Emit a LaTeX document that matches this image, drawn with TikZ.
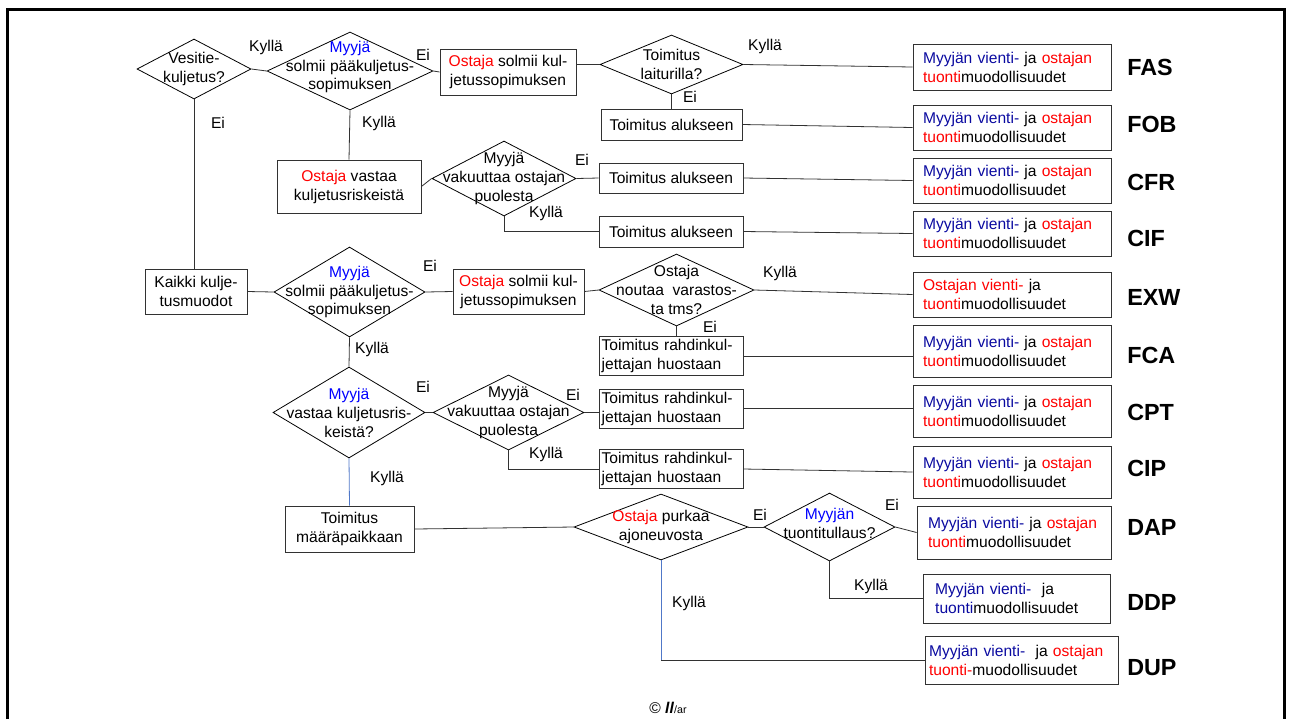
\documentclass[tikz,border=0pt]{standalone}
\usepackage{fontspec}
\setmainfont{Liberation Sans}
\usetikzlibrary{shapes.geometric}
\definecolor{myblue}{RGB}{0,0,255}
\definecolor{navy}{RGB}{10,10,160}
\definecolor{myred}{RGB}{255,0,0}
\definecolor{bline}{RGB}{80,120,200}
\definecolor{lgray}{RGB}{50,50,50}
\newcommand{\nfont}{\fontsize{11.7}{14.2}\selectfont}
\newcommand{\myyvienti}{\textcolor{navy}{Myyjän vienti-} ja \textcolor{myred}{ostajan}\\\textcolor{myred}{tuonti}muodollisuudet}
\tikzset{
	dia/.style={draw=black, diamond, inner sep=0pt, line width=0.6pt},
	box/.style={draw=lgray, rectangle, align=center, font=\nfont, inner sep=2pt, line width=0.6pt},
	tbox/.style={box, align=left, text width=104pt, minimum height=28.5pt},
	res/.style={draw=lgray, rectangle, align=left, font=\nfont, text width=133.5pt, inner xsep=0pt, minimum width=148.5pt, minimum height=34.5pt, line width=0.6pt},
	lbl/.style={font=\nfont, inner sep=0pt},
	term/.style={font={\fontsize{17.5}{20}\selectfont\bfseries}, anchor=west, inner sep=0pt},
	con/.style={draw=lgray, line width=0.6pt},
	every label/.style={font=\nfont, align=center, inner sep=0pt}
}
\begin{document}
\begin{tikzpicture}[x=0.75pt, y=-0.75pt]
	\useasboundingbox (0, 0) rectangle (1289, 719);
	\draw[line width=1.9pt] (7.5, 719) -- (7.5, 9.5) -- (1284.5, 9.5) -- (1284.5, 719);

	\node[dia, minimum width=85.5pt, minimum height=45pt, label={center:{Vesitie-\\kuljetus?}}] (vesi)at(194, 69) {};
	\node[dia, minimum width=124.5pt, minimum height=58.5pt, label={[yshift=3pt]center:{\textcolor{myblue}{Myyjä}\\solmii pääkuljetus-\\sopimuksen}}] (myy1)at(350, 71) {};
	\node[box, minimum width=102pt, minimum height=34.5pt] (ost1)at(508, 72) {\textcolor{myred}{Ostaja} solmii kul-\\jetussopimuksen};
	\node[dia, minimum width=107.25pt, minimum height=44.25pt, label={center:{Toimitus\\laiturilla?}}] (lait)at(671.5, 64.5) {};
	\node[box, minimum width=105.75pt, minimum height=23.25pt] (alus1)at(671.5, 124.5) {Toimitus alukseen};
	\node[box, minimum width=108pt, minimum height=39.75pt] (ostr)at(349, 186.5) {\textcolor{myred}{Ostaja} vastaa\\kuljetusriskeistä};
	\node[dia, minimum width=108pt, minimum height=56.25pt, label={center:{Myyjä\\vakuuttaa ostajan\\puolesta}}] (vak1)at(504, 178.5) {};
	\node[box, minimum width=108pt, minimum height=22.5pt] (alus2)at(671, 178) {Toimitus alukseen};
	\node[box, minimum width=108pt, minimum height=23.25pt] (alus3)at(671, 231.5) {Toimitus alukseen};

	\node[box, minimum width=76.5pt, minimum height=33.75pt] (kaikki)at(196, 291.5) {Kaikki kulje-\\tusmuodot};
	\node[dia, minimum width=113.25pt, minimum height=67.5pt, label={center:{\textcolor{myblue}{Myyjä}\\solmii pääkuljetus-\\sopimuksen}}] (myy2)at(349.5, 292) {};
	\node[box, minimum width=98.25pt, minimum height=33.75pt] (ost2)at(518.5, 291.5) {\textcolor{myred}{Ostaja} solmii kul-\\jetussopimuksen};
	\node[dia, minimum width=116.25pt, minimum height=54pt, label={center:{Ostaja\\noutaa\ \ varastos-\\ta tms?}}] (nout)at(676.5, 290) {};
	\node[tbox] (rahti1)at(671, 356) {Toimitus rahdinkul-\\jettajan huostaan};
	\node[dia, minimum width=114pt, minimum height=68.25pt, label={center:{\textcolor{myblue}{Myyjä}\\vastaa kuljetusris-\\keistä?}}] (vast)at(349, 412.5) {};
	\node[dia, minimum width=113.25pt, minimum height=56.25pt, label={center:{Myyjä\\vakuuttaa ostajan\\puolesta}}] (vak2)at(508.5, 412.5) {};
	\node[tbox] (rahti2)at(671, 408.5) {Toimitus rahdinkul-\\jettajan huostaan};
	\node[tbox] (rahti3)at(671, 469) {Toimitus rahdinkul-\\jettajan huostaan};

	\node[box, minimum width=96.75pt, minimum height=34.5pt] (maara)at(349.5, 529) {Toimitus\\määräpaikkaan};
	\node[dia, minimum width=130.5pt, minimum height=49.5pt, label={center:{\textcolor{myred}{Ostaja} purkaa\\ajoneuvosta}}] (purk)at(661, 527) {};
	\node[dia, minimum width=98.25pt, minimum height=51pt, label={[yshift=3pt]center:{\textcolor{myblue}{Myyjän}\\tuontitullaus?}}] (tull)at(829.5, 527) {};

	\node[res] (fas)at(1012, 67) {\myyvienti};
	\node[res, minimum height=33.75pt] (fob)at(1012, 127.5) {\myyvienti};
	\node[res, minimum height=33.75pt] (cfr)at(1012, 180.5) {\myyvienti};
	\node[res, minimum height=33.75pt] (cif)at(1012, 233.5) {\myyvienti};
	\node[res, minimum height=33.75pt] (exw)at(1012, 294.5) {\textcolor{myred}{Ostajan vienti-} ja\\\textcolor{myred}{tuonti}muodollisuudet};
	\node[res, minimum height=39pt] (fca)at(1012, 351) {\myyvienti};
	\node[res, minimum height=39pt] (cpt)at(1012, 411) {\myyvienti};
	\node[res, minimum height=39pt] (cip)at(1012, 472) {\myyvienti};
	\node[res, minimum width=145.5pt, text width=129pt, minimum height=39.75pt] (dap)at(1014, 532.5) {\myyvienti};
	\node[res, minimum width=140.25pt, text width=122pt, minimum height=36.75pt] (ddp)at(1016.5, 598.5) {\textcolor{navy}{Myyjän vienti-}\ \ ja\\\textcolor{navy}{tuonti}muodollisuudet};
	\node[res, minimum width=144.75pt, text width=138.75pt, minimum height=36pt] (dup)at(1021.5, 660) {\textcolor{navy}{Myyjän vienti-}\ \ ja \textcolor{myred}{ostajan}\\\textcolor{myred}{tuonti-}muodollisuudet};

	\node[term] (tfas)at(1127, 67) {FAS};
	\node[term] (tfob)at(1127, 124) {FOB};
	\node[term] (tcfr)at(1127, 182) {CFR};
	\node[term] (tcif)at(1127, 238) {CIF};
	\node[term] (texw)at(1127, 297) {EXW};
	\node[term] (tfca)at(1127, 355) {FCA};
	\node[term] (tcpt)at(1127, 412) {CPT};
	\node[term] (tcip)at(1127, 468) {CIP};
	\node[term] (tdap)at(1127, 527) {DAP};
	\node[term] (tddp)at(1127, 602) {DDP};
	\node[term] (tdup)at(1127, 668) {DUP};

	\node[lbl] (k1)at(266, 47) {Kyllä};
	\node[lbl] (e1)at(423, 55) {Ei};
	\node[lbl] (k2)at(765, 46) {Kyllä};
	\node[lbl] (e2)at(690, 97) {Ei};
	\node[lbl] (e3)at(218, 123) {Ei};
	\node[lbl] (k3)at(379, 123) {Kyllä};
	\node[lbl] (e4)at(582, 160) {Ei};
	\node[lbl] (k4)at(546, 213) {Kyllä};
	\node[lbl] (e5)at(430, 266) {Ei};
	\node[lbl] (k5)at(780, 273) {Kyllä};
	\node[lbl] (e6)at(710, 327) {Ei};
	\node[lbl] (k6)at(372, 349) {Kyllä};
	\node[lbl] (e7)at(423, 387) {Ei};
	\node[lbl] (e8)at(573, 395) {Ei};
	\node[lbl] (k7)at(546, 454) {Kyllä};
	\node[lbl] (k8)at(387, 478) {Kyllä};
	\node[lbl] (e9)at(760, 515) {Ei};
	\node[lbl] (e10)at(892, 505) {Ei};
	\node[lbl] (k9)at(871, 586) {Kyllä};
	\node[lbl] (k10)at(689, 603) {Kyllä};
	\node[lbl] (copy)at(668, 708) {© \textbf{\textit{ll}}{\footnotesize /ar}};

	\draw[con] (vesi.east) -- (myy1.west);
	\draw[con] (myy1.east) -- (ost1.west);
	\draw[con] (lait.west) -- (lait.west -| ost1.east);
	\draw[con] (lait.east) -- (fas.west);
	\draw[con] (lait.south) -- (alus1.north);
	\draw[con] (alus1.east) -- (fob.west);
	\draw[con] (vesi.south) -- (vesi.south |- kaikki.north);
	\draw[con] (myy1.south) -- (ostr.north);
	\draw[con] (ostr.east) -- (vak1.west);
	\draw[con] (vak1.east) -- (alus2.west);
	\draw[con] (alus2.east) -- (cfr.west);
	\draw[con] (vak1.south) |- (alus3.west);
	\draw[con] (alus3.east) -- (cif.west);
	\draw[con] (kaikki.east) -- (myy2.west);
	\draw[con] (myy2.east) -- (ost2.west);
	\draw[con] (ost2.east) -- (nout.west);
	\draw[con] (nout.east) -- (exw.west);
	\draw[con] (nout.south) -- (nout.south |- rahti1.north);
	\draw[con] (rahti1.east) -- (rahti1.east -| fca.west);
	\draw[con] (myy2.south) -- (vast.north);
	\draw[con] (vast.east) -- (vak2.west);
	\draw[con] (vak2.east) -- (vak2.east -| rahti2.west);
	\draw[con] (rahti2.east) -- (rahti2.east -| cpt.west);
	\draw[con] (vak2.south) |- (rahti3.west);
	\draw[con] (rahti3.east) -- (cip.west);
	\draw[con, draw=bline] (vast.south) -- (maara.north);
	\draw[con] (maara.east) -- (purk.west);
	\draw[con] (purk.east) -- (tull.west);
	\draw[con] (tull.east) -- (dap.west);
	\draw[con] (tull.south) |- (ddp.west);
	\coordinate (kulma) at (purk.south |- dup.west);
	\draw[con, draw=bline] (purk.south) -- (kulma);
	\draw[con] (kulma) -- (dup.west);
\end{tikzpicture}
\end{document}
